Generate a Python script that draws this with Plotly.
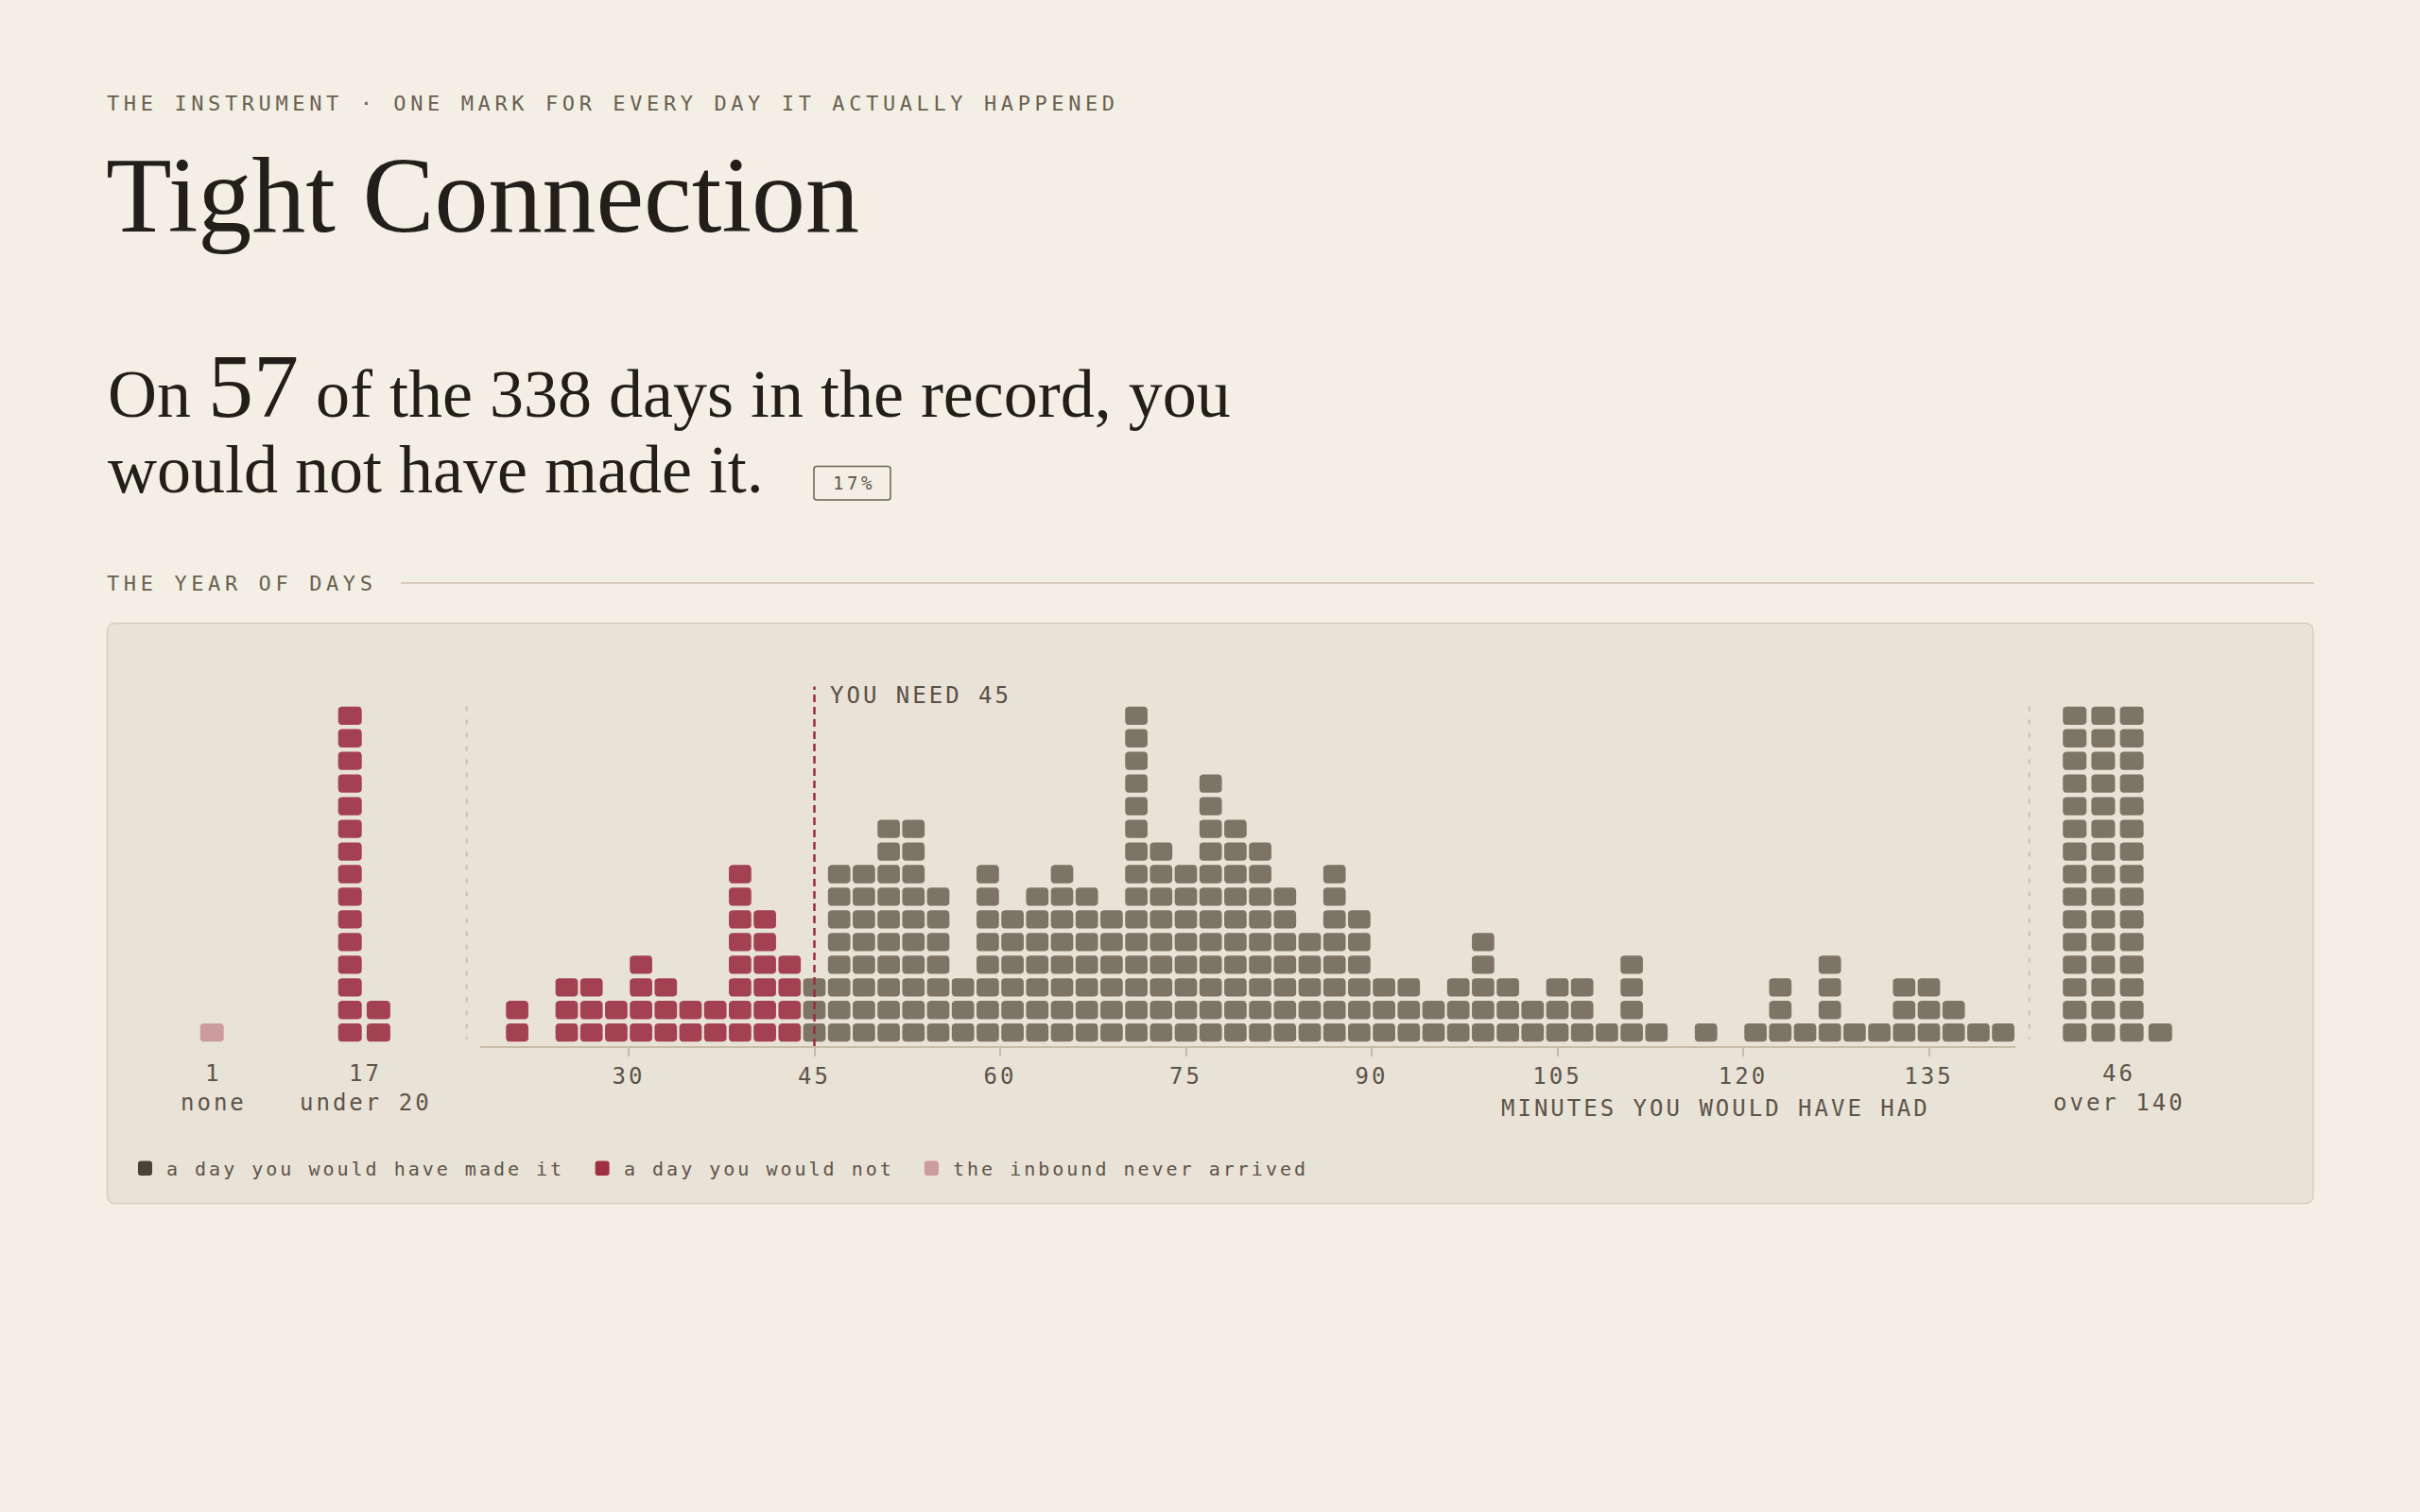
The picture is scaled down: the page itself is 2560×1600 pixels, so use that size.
import math
import plotly.graph_objects as go

# ---------------- data ----------------
KICKER = "THE INSTRUMENT · ONE MARK FOR EVERY DAY IT ACTUALLY HAPPENED"
TITLE = "Tight Connection"
SECTION = "THE YEAR OF DAYS"
AXIS_TITLE = "MINUTES YOU WOULD HAVE HAD"
NEED_MINUTES = 45
TOTAL_DAYS = 338
MISSED_DAYS = 57
MISSED_SHARE = "17%"

# 2-minute bins of "minutes you would have had" (bin centres) and day counts
BIN_CENTERS = [21, 23, 25, 27, 29, 31, 33, 35, 37, 39, 41, 43,
               45, 47, 49, 51, 53, 55, 57, 59, 61, 63, 65, 67, 69, 71, 73, 75,
               77, 79, 81, 83, 85, 87, 89, 91, 93, 95, 97, 99, 101, 103, 105,
               107, 109, 111, 113, 115, 117, 119, 121, 123, 125, 127, 129, 131,
               133, 135, 137, 139, 141]
BIN_COUNTS = [2, 0, 3, 3, 2, 4, 3, 2, 2, 8, 6, 4,
              3, 8, 8, 10, 10, 7, 3, 8, 6, 7, 8, 7, 6, 15, 9, 8,
              12, 10, 9, 7, 5, 8, 6, 3, 3, 2, 3, 5, 3, 2, 3,
              3, 1, 4, 1, 0, 1, 0, 1, 3, 1, 4, 1, 1,
              3, 3, 2, 1, 1]

SIDE_LABELS = ["none", "under 20", "over 140"]
SIDE_COUNTS = [1, 17, 46]
SIDE_KINDS = ["never", "miss", "made"]

TICK_VALUES = [30, 45, 60, 75, 90, 105, 120, 135]

LEGEND_KINDS = ["made", "miss", "never"]
LEGEND_LABELS = ["a day you would have made it", "a day you would not",
                 "the inbound never arrived"]

# ---------------- style ----------------
W, H = 2560, 1600
BG = "#F3EFE5"
PANEL = "#E9E2D6"
PANEL_EDGE = "#D8CEBE"
INK = "#221E19"
MUTED = "#6B5F51"
TICK_INK = "#5D544A"
AXIS = "#C8BCA8"
SEP = "#C9BFAE"
RULE = "#D6CDBD"
CELL = {"made": "#7D7466", "miss": "#A34153", "never": "#CC9B9D"}
SWATCH = {"made": "#4A4237", "miss": "#9F2F43", "never": "#CC9B9D"}
THRESH = "#9C2A40"
MONO = "DejaVu Sans Mono"
SERIF = "Liberation Serif"

# geometry (pixels)
X_AT_30 = 665.0
PX_PER_MIN = 13.1
X_MIN, X_MAX = 18.0, 142.0
ROW_PX = 23.96
Y_ZERO_PX = 1104.7
Y_BOTTOM_PX = 1107.3
Y_TOP_PX = 720.0
STACK = 15
SIDE_CENTER_PX = [224.2, 385.3, 2240.0]
SIDE_PITCH = 30.2


def px(x):
    return x / W


def py(y):
    return 1 - y / H


def ls(text, sp):
    return f"<span style='letter-spacing:{sp}px'>{text}</span>"


def rounded_cell(cx, cy, hw, hh, rx, ry, n=4):
    xs, ys = [], []
    corners = [(cx + hw - rx, cy + hh - ry, 0), (cx - hw + rx, cy + hh - ry, 90),
               (cx - hw + rx, cy - hh + ry, 180), (cx + hw - rx, cy - hh + ry, 270)]
    for ox, oy, a0 in corners:
        for i in range(n + 1):
            a = math.radians(a0 + 90 * i / n)
            xs.append(ox + rx * math.cos(a))
            ys.append(oy + ry * math.sin(a))
    xs += [xs[0], None]
    ys += [ys[0], None]
    return xs, ys


def rr_path(x0, y0, x1, y1, r):
    pts = [
        ("M", x0 + r, y0), ("L", x1 - r, y0), ("Q", x1, y0, x1, y0 + r),
        ("L", x1, y1 - r), ("Q", x1, y1, x1 - r, y1), ("L", x0 + r, y1),
        ("Q", x0, y1, x0, y1 - r), ("L", x0, y0 + r), ("Q", x0, y0, x0 + r, y0),
    ]
    out = []
    for p in pts:
        cmd = p[0]
        coords = p[1:]
        s = " ".join(f"{px(coords[i]):.6f},{py(coords[i + 1]):.6f}" for i in range(0, len(coords), 2))
        out.append(f"{cmd} {s}")
    return " ".join(out) + " Z"


# ---------------- cells ----------------
hh = 9.65 / ROW_PX
ry = 3.5 / ROW_PX
main_hw = 11.85 / PX_PER_MIN
main_rx = 3.5 / PX_PER_MIN

main = {"made": ([], []), "miss": ([], [])}
for c, n in zip(BIN_CENTERS, BIN_COUNTS):
    kind = "miss" if c < NEED_MINUTES else "made"
    for k in range(n):
        xs, ys = rounded_cell(c, k + 0.5, main_hw, hh, main_rx, ry)
        main[kind][0].extend(xs)
        main[kind][1].extend(ys)

side = {"made": ([], []), "miss": ([], []), "never": ([], [])}
for center, n, kind in zip(SIDE_CENTER_PX, SIDE_COUNTS, SIDE_KINDS):
    ncols = math.ceil(n / STACK)
    for i in range(n):
        col, row = divmod(i, STACK)
        cx = center + (col - (ncols - 1) / 2) * SIDE_PITCH
        xs, ys = rounded_cell(cx, row + 0.5, 12.5, hh, 3.5, ry)
        side[kind][0].extend(xs)
        side[kind][1].extend(ys)

fig = go.Figure()
for kind, (xs, ys) in main.items():
    fig.add_trace(go.Scatter(x=xs, y=ys, xaxis="x", yaxis="y", mode="lines",
                             fill="toself", fillcolor=CELL[kind],
                             line=dict(width=0, color=CELL[kind]),
                             hoverinfo="skip", showlegend=False))
for kind, (xs, ys) in side.items():
    fig.add_trace(go.Scatter(x=xs, y=ys, xaxis="x2", yaxis="y", mode="lines",
                             fill="toself", fillcolor=CELL[kind],
                             line=dict(width=0, color=CELL[kind]),
                             hoverinfo="skip", showlegend=False))

# ---------------- shapes ----------------
shapes = []
# panel
shapes.append(dict(type="path", xref="paper", yref="paper", layer="below",
                   path=rr_path(113.5, 659.5, 2447, 1273.5, 9),
                   fillcolor=PANEL, line=dict(color=PANEL_EDGE, width=1.5)))
# section rule
shapes.append(dict(type="line", xref="paper", yref="paper", layer="below",
                   x0=px(424), x1=px(2448), y0=py(617), y1=py(617),
                   line=dict(color=RULE, width=2)))
# dashed separators
for sx in (493.7, 2146.7):
    shapes.append(dict(type="line", xref="paper", yref="paper",
                       x0=px(sx), x1=px(sx), y0=py(747.5), y1=py(1100),
                       line=dict(color=SEP, width=2, dash="5px,9px")))
# threshold
shapes.append(dict(type="line", xref="x", yref="paper", layer="above",
                   x0=NEED_MINUTES, x1=NEED_MINUTES, y0=py(1107), y1=py(726.5),
                   line=dict(color=THRESH, width=2.5, dash="8px,5px")))
# badge
shapes.append(dict(type="path", xref="paper", yref="paper",
                   path=rr_path(861, 493.5, 942, 529, 3),
                   fillcolor="rgba(0,0,0,0)", line=dict(color="#6B6053", width=1.5)))

# ---------------- annotations ----------------
anns = []


def ann(text, x, y, size, color, family=MONO, xanchor="left", yanchor="middle"):
    anns.append(dict(text=text, x=px(x), y=py(y), xref="paper", yref="paper",
                     showarrow=False, xanchor=xanchor, yanchor=yanchor,
                     font=dict(family=family, size=size, color=color)))


ann(ls(KICKER, 4.6), 111, 109.5, 22, MUTED)
ann(TITLE, 110, 206, 114, INK, family=SERIF)
ann(f"On <span style='font-size:96px'>{MISSED_DAYS}</span> of the {TOTAL_DAYS} days in the record, you",
    112, 408, 72, INK, family=SERIF)
ann("would not have made it.", 112, 497.5, 72, INK, family=SERIF)
ann(ls(MISSED_SHARE, 3.5), 903, 511, 19, "#5D544A", xanchor="center")
ann(ls(SECTION, 4.6), 111, 617.5, 22, MUTED)
ann(ls(f"YOU NEED {NEED_MINUTES}", 3), 876, 736, 24, "#5A5045")
ann(ls(AXIS_TITLE, 3), 2044, 1173, 24, TICK_INK, xanchor="right")

for center, n, label in zip(SIDE_CENTER_PX, SIDE_COUNTS, SIDE_LABELS):
    ann(ls(str(n), 3), center + 1.5, 1136, 24, TICK_INK, xanchor="center")
    ann(ls(label, 3), center + 1.5, 1167, 24, TICK_INK, xanchor="center")

# legend
LEG_ADV = 15.04
lx = 146.0
for kind, label in zip(LEGEND_KINDS, LEGEND_LABELS):
    shapes.append(dict(type="path", xref="paper", yref="paper",
                       path=rr_path(lx, 1228.5, lx + 15, 1244, 3),
                       fillcolor=SWATCH[kind], line=dict(width=0)))
    tx = lx + 28
    ann(ls(label, 3), tx, 1237, 20, TICK_INK)
    lx = tx + len(label) * LEG_ADV + 34.5

# ---------------- layout ----------------
x_dom = [px(X_AT_30 + (X_MIN - 30) * PX_PER_MIN), px(X_AT_30 + (X_MAX - 30) * PX_PER_MIN)]
y_rng = [(Y_ZERO_PX - Y_BOTTOM_PX) / ROW_PX, (Y_ZERO_PX - Y_TOP_PX) / ROW_PX]

fig.update_layout(
    width=W, height=H,
    margin=dict(l=0, r=0, t=0, b=0),
    paper_bgcolor=BG, plot_bgcolor="rgba(0,0,0,0)",
    showlegend=False,
    xaxis=dict(domain=x_dom, range=[X_MIN, X_MAX], anchor="y",
               showline=True, linecolor=AXIS, linewidth=2,
               ticks="outside", ticklen=9, tickwidth=2, tickcolor=AXIS,
               tickvals=TICK_VALUES, ticktext=[ls(str(v), 3) for v in TICK_VALUES],
               tickfont=dict(family=MONO, size=24, color=TICK_INK),
               ticklabelstandoff=0,
               showgrid=False, zeroline=False, fixedrange=True),
    xaxis2=dict(domain=[0, 1], range=[0, W], anchor="y", visible=False,
                showgrid=False, zeroline=False, fixedrange=True),
    yaxis=dict(domain=[py(Y_BOTTOM_PX), py(Y_TOP_PX)], range=y_rng, visible=False,
               showgrid=False, zeroline=False, fixedrange=True),
    shapes=shapes,
    annotations=anns,
)

fig.write_html("out.html", config={"displayModeBar": False},
               post_script="document.body.style.margin='0';document.body.style.overflow='hidden';")
